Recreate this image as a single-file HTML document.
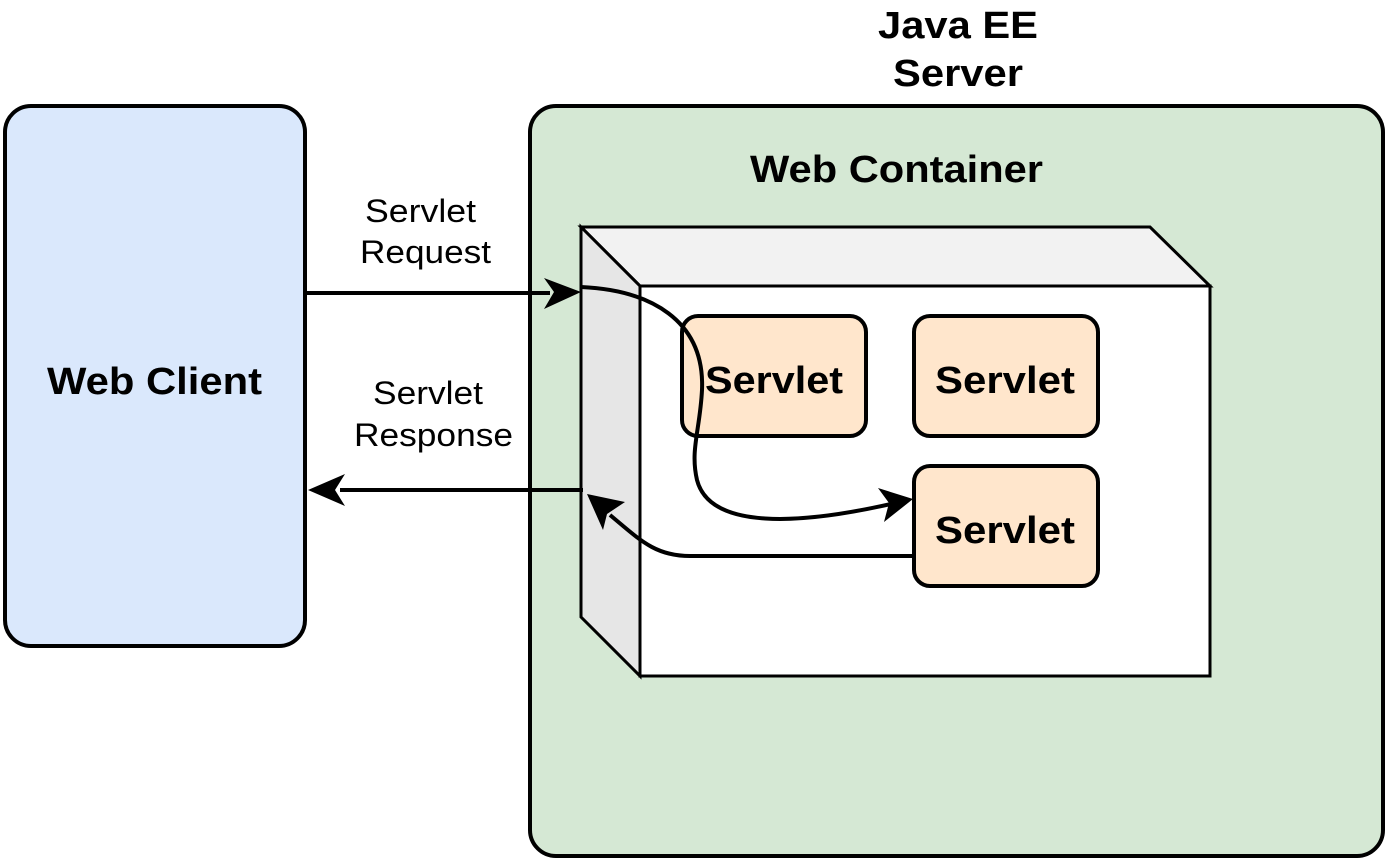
<!DOCTYPE html>
<html><head><meta charset="utf-8"><style>
html,body{margin:0;padding:0;background:#fff;}
svg{display:block;font-family:"Liberation Sans",Arial,sans-serif;}
</style></head><body>
<svg width="1386" height="858" viewBox="0 0 1386 858" xmlns="http://www.w3.org/2000/svg">
<rect x="5" y="106" width="300" height="540" rx="26" fill="#dae8fc" stroke="#000" stroke-width="4"/>
<text x="47" y="394" font-size="38" font-weight="bold" textLength="215" lengthAdjust="spacingAndGlyphs">Web Client</text>
<rect x="530" y="106" width="853" height="750" rx="26" fill="#d5e8d4" stroke="#000" stroke-width="4"/>
<text x="878" y="38" font-size="38" font-weight="bold" textLength="160" lengthAdjust="spacingAndGlyphs">Java EE</text>
<text x="893" y="86" font-size="38" font-weight="bold" textLength="130" lengthAdjust="spacingAndGlyphs">Server</text>
<text x="750" y="182" font-size="38" font-weight="bold" textLength="293" lengthAdjust="spacingAndGlyphs">Web Container</text>
<polygon points="581,227 1150,227 1210,286 640,286" fill="#f2f2f2" stroke="#000" stroke-width="3"/>
<polygon points="581,227 640,286 640,676 581,617" fill="#e6e6e6" stroke="#000" stroke-width="3"/>
<rect x="640" y="286" width="570" height="390" fill="#fff" stroke="#000" stroke-width="3"/>
<rect x="682" y="316" width="184" height="120" rx="16" fill="#ffe6cc" stroke="#000" stroke-width="4"/>
<rect x="914" y="316" width="184" height="120" rx="16" fill="#ffe6cc" stroke="#000" stroke-width="4"/>
<rect x="914" y="466" width="184" height="120" rx="16" fill="#ffe6cc" stroke="#000" stroke-width="4"/>
<text x="705" y="393" font-size="38" font-weight="bold" textLength="138" lengthAdjust="spacingAndGlyphs">Servlet</text>
<text x="935" y="393" font-size="38" font-weight="bold" textLength="140" lengthAdjust="spacingAndGlyphs">Servlet</text>
<text x="935" y="543" font-size="38" font-weight="bold" textLength="140" lengthAdjust="spacingAndGlyphs">Servlet</text>
<text x="365" y="222" font-size="32" textLength="111" lengthAdjust="spacingAndGlyphs">Servlet</text>
<text x="360" y="263" font-size="32" textLength="131" lengthAdjust="spacingAndGlyphs">Request</text>
<text x="373" y="404" font-size="32" textLength="110" lengthAdjust="spacingAndGlyphs">Servlet</text>
<text x="354" y="446" font-size="32" textLength="159" lengthAdjust="spacingAndGlyphs">Response</text>
<line x1="307" y1="293" x2="550" y2="293" stroke="#000" stroke-width="4"/>
<polygon points="581,292 544,278 554,292 544,309" fill="#000"/>
<line x1="583" y1="490" x2="340" y2="490" stroke="#000" stroke-width="4"/>
<polygon points="308,490 345,474 335,490 345,506" fill="#000"/>
<path d="M581,287 C650,290 705,320 702,390 C700,430 690,450 697,480 C710,530 800,525 895,503" fill="none" stroke="#000" stroke-width="4"/>
<polygon points="913,499 878,488 889,503 884,522" fill="#000"/>
<path d="M912,556 L690,556 C655,556 640,540 610,515" fill="none" stroke="#000" stroke-width="4"/>
<polygon points="587,494 603,530 607,514 625,502" fill="#000"/>
</svg>
</body></html>
